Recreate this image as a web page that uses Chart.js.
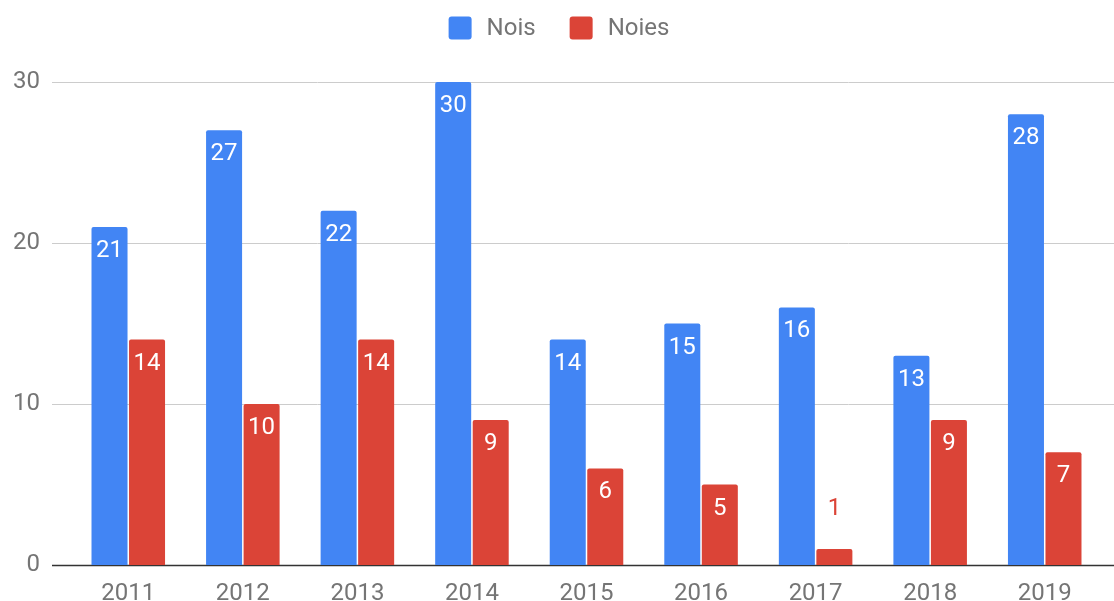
<!DOCTYPE html>
<html>
<head>
<meta charset="utf-8">
<script src="https://cdn.jsdelivr.net/npm/chart.js@4"></script>
<style>
  html, body { margin: 0; padding: 0; background: #fff; }
  #wrap { width: 1114px; height: 601px; }
</style>
</head>
<body>
<div id="wrap"><canvas id="chart" width="1114" height="601"></canvas></div>
<script>
const years = ['2011', '2012', '2013', '2014', '2015', '2016', '2017', '2018', '2019'];
const nois = [21, 27, 22, 30, 14, 15, 16, 13, 28];
const noies = [14, 10, 14, 9, 6, 5, 1, 9, 7];
const yTicks = [0, 10, 20, 30];

const blue = '#4285F4';
const red = '#DB4437';
const textGrey = '#757575';
const fontFamily = 'Roboto, "Noto Sans", sans-serif';
const fontSize = 24;

// grid lines run wider than the plot area, like the original
const gridPlugin = {
  id: 'wideGrid',
  beforeDatasetsDraw(chart) {
    const ctx = chart.ctx;
    const y = chart.scales.y;
    ctx.save();
    yTicks.forEach(v => {
      const py = Math.round(y.getPixelForValue(v)) + 0.5;
      ctx.beginPath();
      ctx.strokeStyle = v === 0 ? '#333333' : '#cccccc';
      ctx.lineWidth = v === 0 ? 1.5 : 1;
      ctx.moveTo(52, py);
      ctx.lineTo(chart.width, py);
      ctx.stroke();
    });
    ctx.restore();
  }
};

// simple centred legend, spaced like the google chart one
const topLegend = {
  id: 'topLegend',
  afterDraw(chart) {
    const ctx = chart.ctx;
    const box = 23, gap = 15, between = 34, cy = 28;
    ctx.save();
    ctx.font = fontSize + 'px ' + fontFamily;
    ctx.textBaseline = 'middle';
    const items = chart.data.datasets.map(ds => ({
      text: ds.label, color: ds.backgroundColor, w: ctx.measureText(ds.label).width
    }));
    let total = items.reduce((s, it) => s + box + gap + it.w, 0) + between * (items.length - 1);
    let x = chart.width / 2 - total / 2 + 2;
    items.forEach(it => {
      ctx.fillStyle = it.color;
      ctx.beginPath();
      ctx.roundRect(x, cy - box / 2, box, box, 3);
      ctx.fill();
      ctx.fillStyle = textGrey;
      ctx.fillText(it.text, x + box + gap, cy + 1);
      x += box + gap + it.w + between;
    });
    ctx.restore();
  }
};

const valueLabels = {
  id: 'valueLabels',
  afterDatasetsDraw(chart) {
    const ctx = chart.ctx;
    ctx.save();
    ctx.font = fontSize + 'px ' + fontFamily;
    ctx.textAlign = 'center';
    ctx.textBaseline = 'middle';
    chart.data.datasets.forEach((ds, i) => {
      chart.getDatasetMeta(i).data.forEach((bar, j) => {
        const h = bar.base - bar.y;
        if (h > 40) {
          ctx.fillStyle = '#ffffff';
          ctx.fillText(ds.data[j], bar.x, bar.y + 24);
        } else {
          ctx.fillStyle = ds.backgroundColor;
          ctx.fillText(ds.data[j], bar.x, bar.y - 40);
        }
      });
    });
    ctx.restore();
  }
};

new Chart(document.getElementById('chart'), {
  type: 'bar',
  data: {
    labels: years,
    datasets: [
      { label: 'Nois', data: nois, backgroundColor: blue, borderRadius: { topLeft: 2, topRight: 2 }, borderSkipped: 'bottom' },
      { label: 'Noies', data: noies, backgroundColor: red, borderRadius: { topLeft: 2, topRight: 2 }, borderSkipped: 'bottom' }
    ]
  },
  options: {
    responsive: false,
    animation: false,
    categoryPercentage: 0.655,
    barPercentage: 0.96,
    layout: { padding: { top: 82, right: 12, left: 0, bottom: 0 } },
    plugins: {
      legend: { display: false },
      tooltip: { enabled: false }
    },
    scales: {
      x: {
        afterFit(scale) {
          scale.height = 36;
          scale.paddingLeft = 0;
          scale.paddingRight = 0;
        },
        grid: { display: false, drawTicks: false },
        border: { display: false },
        ticks: { color: textGrey, font: { family: fontFamily, size: fontSize }, padding: 15 }
      },
      y: {
        min: 0,
        max: 30,
        afterFit(scale) {
          scale.width = 71;
          scale.paddingTop = 0;
          scale.paddingBottom = 0;
        },
        afterBuildTicks(scale) { scale.ticks = yTicks.map(v => ({ value: v })); },
        grid: { display: false, drawTicks: false },
        border: { display: false },
        ticks: { color: textGrey, font: { family: fontFamily, size: fontSize }, padding: 31 }
      }
    }
  },
  plugins: [gridPlugin, valueLabels, topLegend]
});
</script>
</body>
</html>
